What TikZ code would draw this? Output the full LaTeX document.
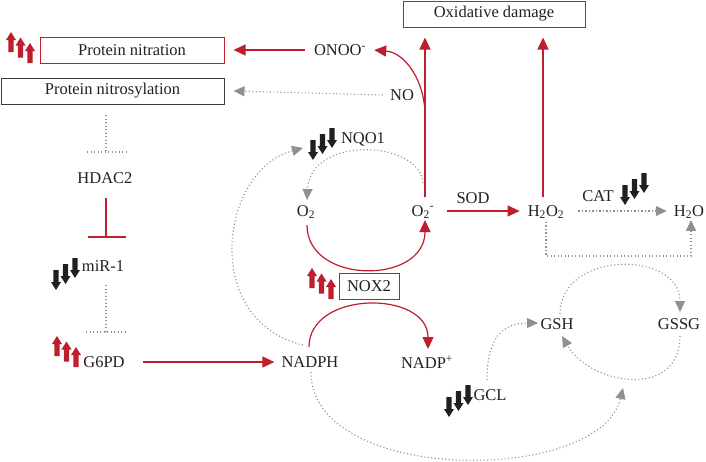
\documentclass[tikz,border=0pt]{standalone}
\usepackage{fontspec}
\setmainfont{Liberation Serif}
\usetikzlibrary{arrows.meta}
\definecolor{myred}{HTML}{BE1E2D}
\definecolor{mygray}{HTML}{909090}
\definecolor{mytext}{HTML}{231F20}
\definecolor{mydark}{HTML}{3A3A3A}
\begin{document}
\begin{tikzpicture}[x=1pt,y=-1pt,
  lbl/.style={font=\fontsize{16.5}{19}\selectfont, text=mytext, inner sep=0pt},
  redbox/.style={lbl, draw=myred, line width=1pt, minimum height=26pt},
  darkbox/.style={lbl, draw=mydark, line width=1pt, minimum height=26pt},
  redln/.style={draw=myred, line width=1.2pt},
  redarr/.style={redln, -{Triangle[length=12pt,width=11pt]}},
  grayln/.style={draw=mygray, line width=1.1pt, dash pattern=on 1.1pt off 2.4pt},
  grayarr/.style={grayln, -{Triangle[length=11pt,width=10pt]}},
  triup/.pic={
    \foreach \i in {0,1,2} {
      \fill[myred] ({9.5*\i},{5.5*\i}) -- ++(5,8) -- ++(-2.3,0) -- ++(0,12) -- ++(-5.4,0) -- ++(0,-12) -- ++(-2.3,0) -- cycle;
    }
  },
  tridown/.pic={
    \foreach \i in {0,1,2} {
      \fill[mytext] ({9.5*\i},{-6*\i}) -- ++(5,-8) -- ++(-2.3,0) -- ++(0,-12) -- ++(-5.4,0) -- ++(0,12) -- ++(-2.3,0) -- cycle;
    }
  }
]
\useasboundingbox (0,0) rectangle (706,461);

% boxes
\node[redbox, minimum width=184pt] (nitr) at (132,50) {Protein nitration};
\node[darkbox, minimum width=223pt] (nitros) at (112.5,91) {Protein nitrosylation};
\node[redbox, minimum width=182pt] (damage) at (494,14) {Oxidative damage};
\node[redbox, minimum width=60pt] (nox) at (369,286) {NOX2};

% labels
\node[lbl] (onoo) at (340,50) {ONOO\textsuperscript{-}};
\node[lbl] (no) at (402,95) {NO};
\node[lbl] (hdac) at (105,178) {HDAC2};
\node[lbl] (mir) at (103,266) {miR-1};
\node[lbl] (g6pd) at (104,362) {G6PD};
\node[lbl] (nadph) at (310,362) {NADPH};
\node[lbl] (nadp) at (427,362) {NADP\textsuperscript{+}};
\node[lbl] (nqo) at (363,139) {NQO1};
\node[lbl] (o2) at (306,212) {O\textsubscript{2}};
\node[lbl] (o2m) at (423,212) {O\textsubscript{2}\textsuperscript{-}};
\node[lbl] (sod) at (473,198) {SOD};
\node[lbl] (h2o2) at (546,212) {H\textsubscript{2}O\textsubscript{2}};
\node[lbl] (cat) at (598,196) {CAT};
\node[lbl] (h2o) at (689,212) {H\textsubscript{2}O};
\node[lbl] (gsh) at (557,324) {GSH};
\node[lbl] (gssg) at (679,324) {GSSG};
\node[lbl] (gcl) at (490,395) {GCL};

% up / down markers
\pic at (11,32) {triup};
\pic at (57,336) {triup};
\pic at (312,268) {triup};
\pic at (56,290) {tridown};
\pic at (313,160) {tridown};
\pic at (625,205) {tridown};
\pic at (449,417) {tridown};

% named ends
\coordinate (o2mtop) at (425,197);
\coordinate (h2o2top) at (543,197);
\coordinate (nadphT) at (309,347);
\coordinate (nadpT) at (428,349);
\coordinate (o2B) at (307,225);
\coordinate (o2mB) at (425,220);
\coordinate (o2mT) at (423,183);
\coordinate (o2T) at (307,200);
\coordinate (nadphL) at (303,345);
\coordinate (nqoL) at (303,148);
\coordinate (nadphB) at (311,372);
\coordinate (cycB) at (623,388);
\coordinate (gclT) at (487,380);
\coordinate (gshL) at (538,323);
\coordinate (gshT) at (560,314);
\coordinate (gssgT) at (680,312);
\coordinate (gssgB) at (680,336);
\coordinate (gshB) at (562,336);

% red connectors
\draw[redarr] ([xshift=-9pt]onoo.west) -- ([xshift=9pt]nitr.east);
\draw[redarr] (o2mtop) -- ([xshift=-69pt,yshift=-10pt]damage.south);
\draw[redarr] (o2mtop) -- (425,115) to[out=90,in=-5] ([xshift=8pt]onoo.east);
\draw[redarr] (h2o2top) -- ([xshift=49pt,yshift=-10pt]damage.south);
\draw[redarr] ([xshift=13pt,yshift=1pt]o2m.east) -- ([xshift=-8pt,yshift=1pt]h2o2.west);
\draw[redarr] ([xshift=18pt]g6pd.east) -- ([xshift=-7pt]nadph.west);
\draw[redarr] (nadphT) .. controls (309,290) and (428,290) .. (nadpT);
\draw[redarr] (o2B) .. controls (307,285) and (425,285) .. (o2mB);

% gray connectors
\draw[grayarr] ([xshift=-7pt]no.west) -- ([xshift=9pt]nitros.east);
\draw[grayarr] ([xshift=14pt,yshift=1pt]h2o2.east) -- ([xshift=-7pt,yshift=1pt]h2o.west);
\draw[grayarr] ([yshift=-3pt]h2o2.south) -- ++(0,34) -| ([xshift=2pt,yshift=-1pt]h2o.south);
\draw[grayarr] (o2mT) .. controls (420,140) and (310,135) .. (o2T);
\draw[grayarr] (nadphL) .. controls (200,320) and (220,170) .. (nqoL);
\draw[grayarr] (nadphB) .. controls (311,485) and (600,485) .. (cycB);
\draw[grayarr] (gclT) .. controls (487,335) and (505,323) .. (gshL);
\draw[grayarr] (gshT) .. controls (560,250) and (680,250) .. (gssgT);
\draw[grayarr] (gssgB) .. controls (680,400) and (590,385) .. (gshB);

% inhibition bars
\draw[grayln] (106,115) -- (106,152);
\draw[grayln] (87,152) -- (126,152);
\draw[redln] (106,198) -- (106,237);
\draw[redln] (88,237) -- (126,237);
\draw[grayln] (106,285) -- (106,332);
\draw[grayln] (86,332) -- (125,332);
\end{tikzpicture}
\end{document}
